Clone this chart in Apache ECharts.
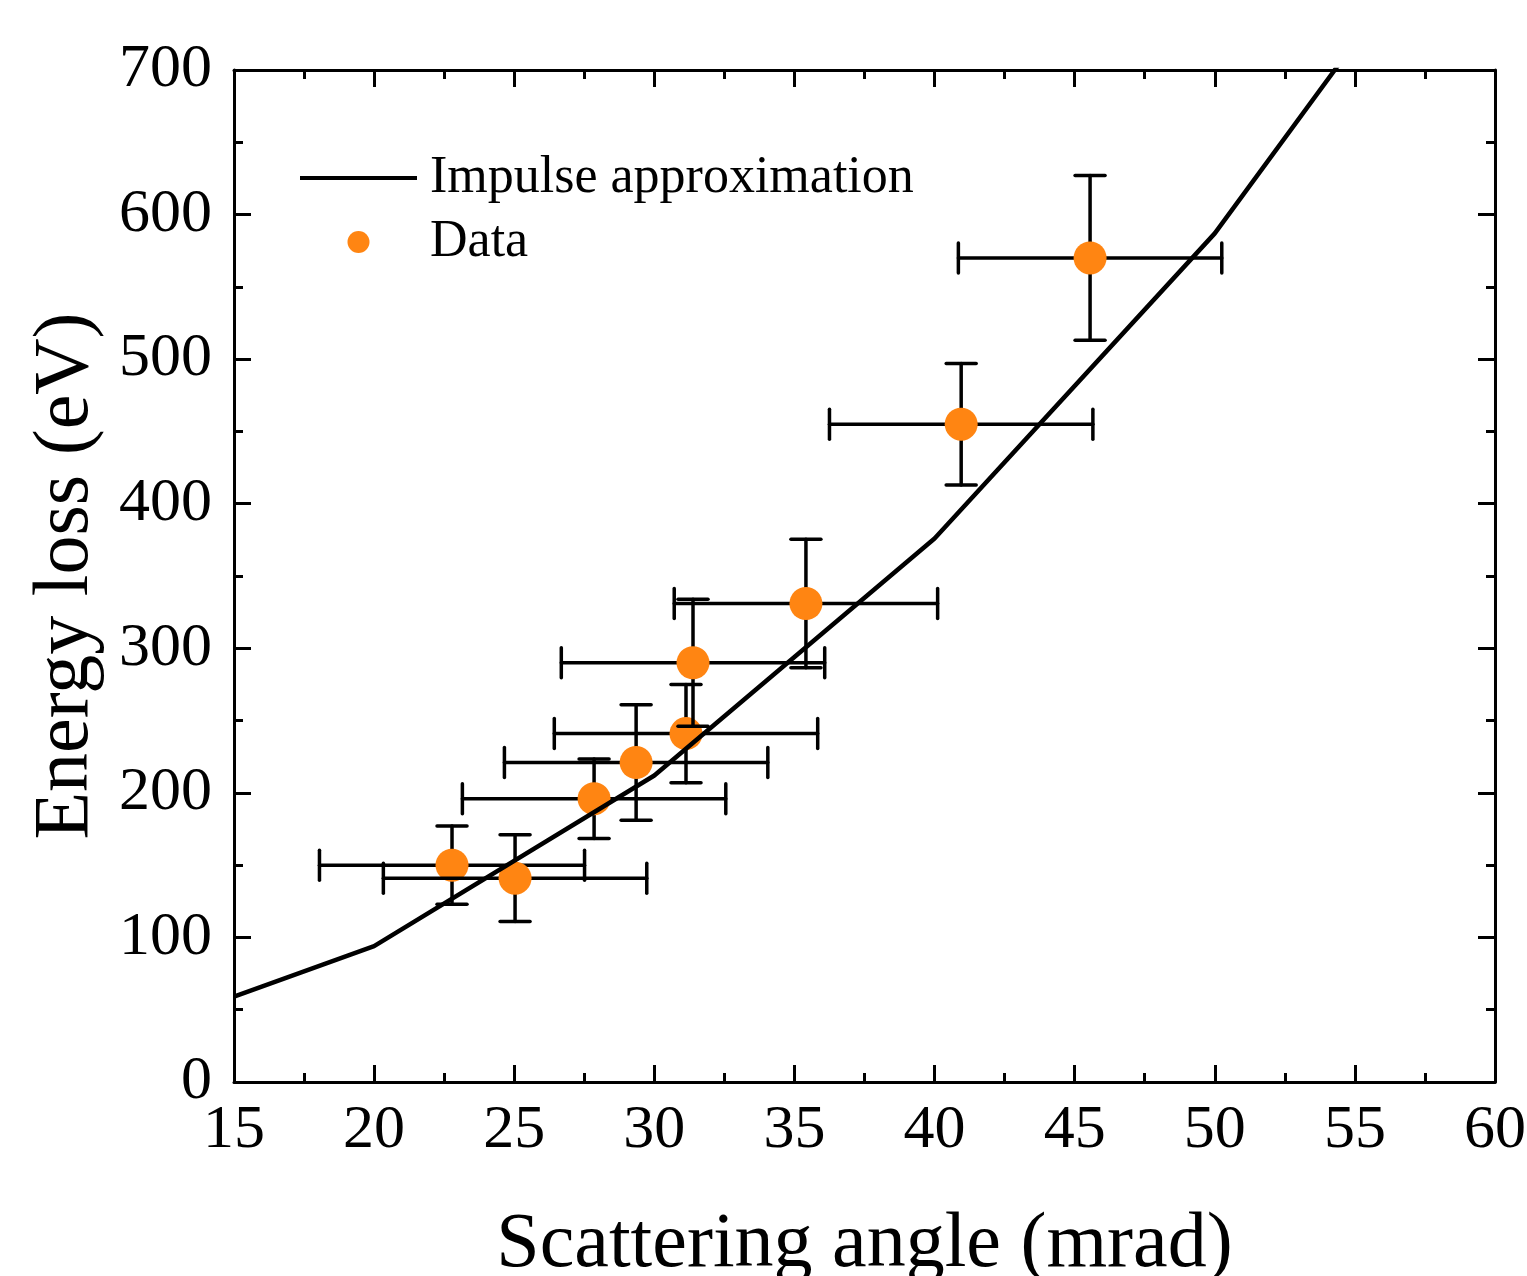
<!DOCTYPE html>
<html>
<head>
<meta charset="utf-8">
<script src="https://cdn.jsdelivr.net/npm/echarts@6/dist/echarts.min.js"></script>
<style>
html,body{margin:0;padding:0;background:#fff;}
#chart{width:1527px;height:1276px;}
</style>
</head>
<body>
<div id="chart"></div>
<script>
// Impulse approximation curve
var lineAngle = [15, 20, 30, 40, 50, 55];
var lineEnergy = [59, 94, 212, 376, 587, 719];

// Measured data with error bars
var dataAngle = [22.78, 25.03, 27.85, 29.35, 31.13, 31.38, 35.41, 40.95, 45.55];
var dataEnergy = [150, 141, 196, 221, 241, 290, 331, 455, 570];
var angleErr = [4.73, 4.7, 4.7, 4.7, 4.7, 4.7, 4.7, 4.7, 4.7];
var energyErr = [27, 30, 27.5, 40, 34, 44, 44.5, 42, 57];

var xTicks = [15, 20, 25, 30, 35, 40, 45, 50, 55, 60];
var yTicks = [0, 100, 200, 300, 400, 500, 600, 700];

var FONT = '"Liberation Serif", "Times New Roman", serif';
var ORANGE = '#FF8512';

var chart = echarts.init(document.getElementById('chart'));

var lineData = lineAngle.map(function (a, i) { return [a, lineEnergy[i]]; });
var pointData = dataAngle.map(function (a, i) { return [a, dataEnergy[i], angleErr[i], energyErr[i]]; });

function axisCommon(extra) {
  var o = {
    type: 'value',
    axisLine: { show: true, onZero: false, lineStyle: { color: '#000', width: 3 } },
    axisTick: { show: true, inside: true, length: 17, lineStyle: { color: '#000', width: 3 } },
    minorTick: { show: true, splitNumber: 2, length: 9, lineStyle: { color: '#000', width: 3 } },
    splitLine: { show: false },
    minorSplitLine: { show: false }
  };
  for (var k in extra) o[k] = extra[k];
  return o;
}

var option = {
  backgroundColor: '#fff',
  animation: false,
  grid: { left: 234, right: 32, top: 70, bottom: 194, containLabel: false, outerBoundsMode: 'none' },
  legend: {
    orient: 'vertical',
    left: 293,
    top: 147,
    itemWidth: 117,
    itemHeight: 22,
    itemGap: 12,
    textStyle: { fontFamily: FONT, fontSize: 52, color: '#000', lineHeight: 52, padding: [0, 0, 0, 8] },
    data: [
      { name: 'Impulse approximation', itemStyle: { opacity: 0 }, lineStyle: { color: '#000', width: 4 } },
      { name: 'Data', icon: 'circle', itemStyle: { color: ORANGE } }
    ]
  },
  xAxis: [
    axisCommon({
      min: xTicks[0], max: xTicks[xTicks.length - 1], interval: 5,
      position: 'bottom',
      name: 'Scattering angle (mrad)',
      nameLocation: 'middle',
      nameGap: 125,
      nameTextStyle: { fontFamily: FONT, fontSize: 78, color: '#000' },
      axisLabel: { show: true, margin: 18, fontFamily: FONT, fontSize: 62, color: '#000' }
    }),
    axisCommon({
      min: xTicks[0], max: xTicks[xTicks.length - 1], interval: 5,
      position: 'top',
      axisLabel: { show: false }
    })
  ],
  yAxis: [
    axisCommon({
      min: yTicks[0], max: yTicks[yTicks.length - 1], interval: 100,
      position: 'left',
      name: 'Energy loss (eV)',
      nameLocation: 'middle',
      nameGap: 128,
      nameTextStyle: { fontFamily: FONT, fontSize: 78, color: '#000' },
      axisLabel: { show: true, margin: 22, fontFamily: FONT, fontSize: 62, color: '#000' }
    }),
    axisCommon({
      min: yTicks[0], max: yTicks[yTicks.length - 1], interval: 100,
      position: 'right',
      axisLabel: { show: false }
    })
  ],
  series: [
    {
      name: 'Data',
      type: 'custom',
      xAxisIndex: 0,
      yAxisIndex: 0,
      z: 2,
      itemStyle: { color: ORANGE },
      data: pointData,
      renderItem: function (params, api) {
        var x = api.value(0), y = api.value(1), ex = api.value(2), ey = api.value(3);
        var c = api.coord([x, y]);
        var l = api.coord([x - ex, y]);
        var r = api.coord([x + ex, y]);
        var t = api.coord([x, y + ey]);
        var b = api.coord([x, y - ey]);
        var cap = 15;
        var st = { stroke: '#000', lineWidth: 3.5, lineCap: 'round' };
        return {
          type: 'group',
          children: [
            { type: 'line', shape: { x1: l[0], y1: l[1], x2: r[0], y2: r[1] }, style: st },
            { type: 'line', shape: { x1: l[0], y1: l[1] - cap, x2: l[0], y2: l[1] + cap }, style: st },
            { type: 'line', shape: { x1: r[0], y1: r[1] - cap, x2: r[0], y2: r[1] + cap }, style: st },
            { type: 'line', shape: { x1: t[0], y1: t[1], x2: b[0], y2: b[1] }, style: st },
            { type: 'line', shape: { x1: t[0] - cap, y1: t[1], x2: t[0] + cap, y2: t[1] }, style: st },
            { type: 'line', shape: { x1: b[0] - cap, y1: b[1], x2: b[0] + cap, y2: b[1] }, style: st },
            { type: 'circle', shape: { cx: c[0], cy: c[1], r: 16.5 }, style: { fill: ORANGE } }
          ]
        };
      }
    },
    {
      name: 'Impulse approximation',
      type: 'line',
      xAxisIndex: 0,
      yAxisIndex: 0,
      z: 5,
      data: lineData,
      symbol: 'none',
      clip: true,
      lineStyle: { color: '#000', width: 4.5 },
      itemStyle: { color: '#000' }
    }
  ]
};

chart.setOption(option);
</script>
</body>
</html>
